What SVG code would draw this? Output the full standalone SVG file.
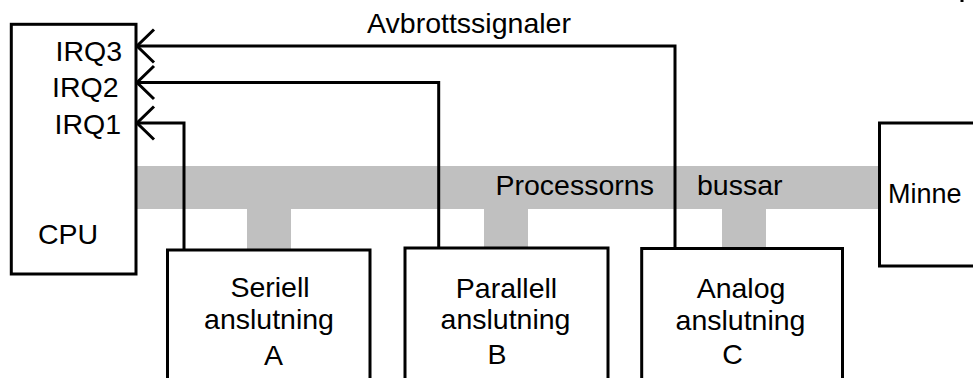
<svg xmlns="http://www.w3.org/2000/svg" width="973" height="378" viewBox="0 0 973 378">
  <style>
    .box { fill: #ffffff; stroke: #000000; stroke-width: 3; }
    .bus { fill: #c0c0c0; }
    .wire { fill: none; stroke: #000000; stroke-width: 3; stroke-linejoin: miter; marker-end: url(#openArrow); }
    text { font-family: "Liberation Sans", Arial, sans-serif; font-size: 28.5px; fill: #000000; }
    .mid { text-anchor: middle; }
  </style>
  <defs>
    <marker id="openArrow" markerUnits="userSpaceOnUse" viewBox="-20 -20 24 40" refX="0" refY="0" markerWidth="24" markerHeight="40" orient="auto" overflow="visible">
      <path d="M -17,-16.5 L 0,0 L -17,16.5" fill="none" stroke="#000000" stroke-width="3" stroke-linejoin="miter"/>
    </marker>
  </defs>

  <rect width="973" height="378" fill="#ffffff"/>

  <!-- system bus with stubs down to each interface -->
  <g id="bus">
    <rect class="bus" x="137" y="166" width="742" height="43"/>
    <rect class="bus" x="247" y="208" width="44" height="42"/>
    <rect class="bus" x="484" y="208" width="44" height="40"/>
    <rect class="bus" x="722" y="208" width="44" height="40"/>
    <text x="495.5" y="195">Processorns</text>
    <text x="697" y="195">bussar</text>
  </g>

  <g id="cpu">
    <rect class="box" x="11.3" y="24.3" width="124.7" height="249.7"/>
    <text x="55.5" y="61">IRQ3</text>
    <text x="52" y="97">IRQ2</text>
    <text x="54.5" y="134">IRQ1</text>
    <text class="mid" x="68" y="244">CPU</text>
  </g>

  <g id="minne">
    <rect class="box" x="879.5" y="123" width="200" height="143"/>
    <text x="888" y="203" style="font-size:27px">Minne</text>
  </g>

  <g id="seriell">
    <rect class="box" x="167.5" y="250" width="202.5" height="160"/>
    <text class="mid" x="270" y="297">Seriell</text>
    <text class="mid" x="269" y="328.5">anslutning</text>
    <text class="mid" x="273.5" y="365">A</text>
  </g>

  <g id="parallell">
    <rect class="box" x="405" y="248" width="203" height="160"/>
    <text class="mid" x="506.5" y="298">Parallell</text>
    <text class="mid" x="505.5" y="328.5">anslutning</text>
    <text class="mid" x="497" y="364">B</text>
  </g>

  <g id="analog">
    <rect class="box" x="641.7" y="248.5" width="200.8" height="160"/>
    <text class="mid" x="741" y="298">Analog</text>
    <text class="mid" x="740.5" y="330">anslutning</text>
    <text class="mid" x="732.5" y="363.5">C</text>
  </g>

  <!-- interrupt lines from each interface to the CPU -->
  <g id="connectors">
    <path class="wire" d="M 184,250 V 123 H 137"/>
    <path class="wire" d="M 438.7,248 V 82.5 H 137"/>
    <path class="wire" d="M 675,248 V 46 H 137"/>
    <text class="mid" x="469" y="33">Avbrottssignaler</text>
  </g>

  <rect x="960.5" y="0" width="3" height="2" fill="#000000"/>
</svg>
